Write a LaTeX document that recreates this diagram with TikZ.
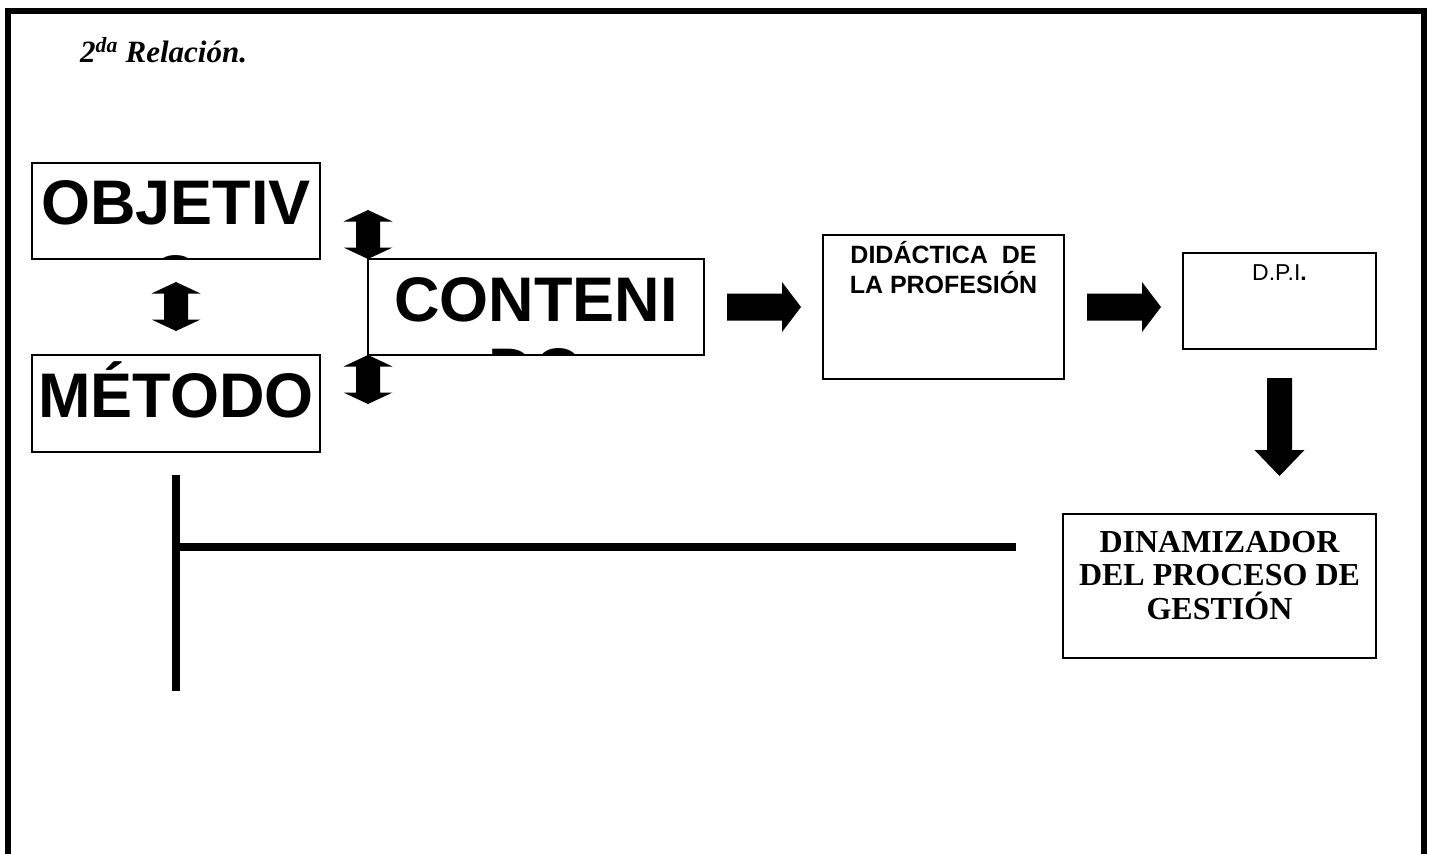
\documentclass[tikz,border=0pt]{standalone}
\usepackage{fontspec}
\setmainfont{Liberation Serif}
\newfontfamily\arialfont{Liberation Sans}
\usetikzlibrary{positioning}

\begin{document}
\begin{tikzpicture}[x=1pt,y=-1pt]
	% Define styles
	\tikzset{
		frame/.style={line width=6pt},
		textbox/.style={draw, line width=1.5pt, inner sep=0pt, outer sep=0pt},
		bigword/.style={font=\fontsize{63}{63}\selectfont\arialfont\bfseries, inner sep=0pt, anchor=base},
		smallword/.style={font=\fontsize{25}{25}\selectfont\arialfont\bfseries, inner sep=0pt, anchor=base},
		serifword/.style={font=\fontsize{32}{32}\selectfont\bfseries, inner sep=0pt, anchor=base},
		bar/.style={line width=8pt}
	}
	
	% Macros to draw block arrows (start point given)
	\def\rightblock#1{\fill[shift={#1}] (0,-13.5) -- (55,-13.5) -- (55,-25) -- (74,0) -- (55,25) -- (55,13.5) -- (0,13.5) -- cycle;}
	\def\downblock#1{\fill[shift={#1}] (-12.5,0) -- (12.5,0) -- (12.5,72) -- (25,72) -- (0,98) -- (-25,72) -- (-12.5,72) -- cycle;}
	\def\dblblock#1{\fill[shift={#1}] (0,0) -- (24.5,11.5) -- (12,11.5) -- (12,37.5) -- (24.5,37.5) -- (0,49) -- (-24.5,37.5) -- (-12,37.5) -- (-12,11.5) -- (-24.5,11.5) -- cycle;}
	
	\useasboundingbox (0,0) rectangle (1433,854);
	
	% Outer frame (open at the bottom)
	\draw[frame] (7.5,854) -- (7.5,11) -- (1424,11) -- (1424,854);
	
	% Title
	\node[anchor=base west, inner sep=0pt, font=\fontsize{31}{31}\selectfont\bfseries\itshape] (title) at (80,62) {2\textsuperscript{da} Relación.};
	
	% Boxes
	\node[textbox, minimum width=288, minimum height=96] (objetivo) at (176,211) {};
	\node[textbox, minimum width=288, minimum height=97] (metodo) at (176,403.5) {};
	\node[textbox, minimum width=336, minimum height=96] (contenido) at (536,307) {};
	\node[textbox, minimum width=241, minimum height=144] (didactica) at (943.5,307) {};
	\node[textbox, minimum width=193, minimum height=96] (dpi) at (1279.5,301) {};
	\node[textbox, minimum width=313, minimum height=144] (dinamizador) at (1219.5,586) {};
	
	% Words cut by their boxes
	\begin{scope}
		\clip (objetivo.north west) rectangle (objetivo.south east);
		\node[bigword] (obj-1) at (176,224) {OBJETIV};
		\node[bigword] (obj-2) at (176,299) {O};
	\end{scope}
	\begin{scope}
		\clip (contenido.north west) rectangle (contenido.south east);
		\node[bigword] (cont-1) at (536,321) {CONTENI};
		\node[bigword] (cont-2) at (536,392) {DO};
	\end{scope}
	\node[bigword] (met-1) at (176,417) {MÉTODO};
	
	% Small texts
	\node[smallword] (did-1) at (943.5,263) {DIDÁCTICA\ \ DE};
	\node[smallword] (did-2) at (943.5,293) {LA PROFESIÓN};
	\node[smallword, font=\fontsize{23}{23}\selectfont\arialfont] (dpi-1) at (1279.5,280) {D.P.I\textbf{.}};
	\foreach \t [count=\k] in {DINAMIZADOR, DEL PROCESO DE, GESTIÓN}
		\node[serifword] (dina-\k) at (1219.5,{552+33.5*(\k-1)}) {\t};
	
	% Block arrows
	\dblblock{(176,282)}
	\dblblock{([yshift=49pt]contenido.north west)}
	\dblblock{(contenido.south west)}
	\rightblock{(727,307)}
	\rightblock{(1087,307)}
	\downblock{(1279.5,378)}
	
	% Open bracket line
	\coordinate (tv-top) at (176,475);
	\coordinate (tv-bot) at (176,691);
	\coordinate (th-left) at (176,547);
	\coordinate (th-right) at (1016,547);
	\draw[bar] (tv-top) -- (tv-bot);
	\draw[bar] (th-left) -- (th-right);
\end{tikzpicture}
\end{document}
